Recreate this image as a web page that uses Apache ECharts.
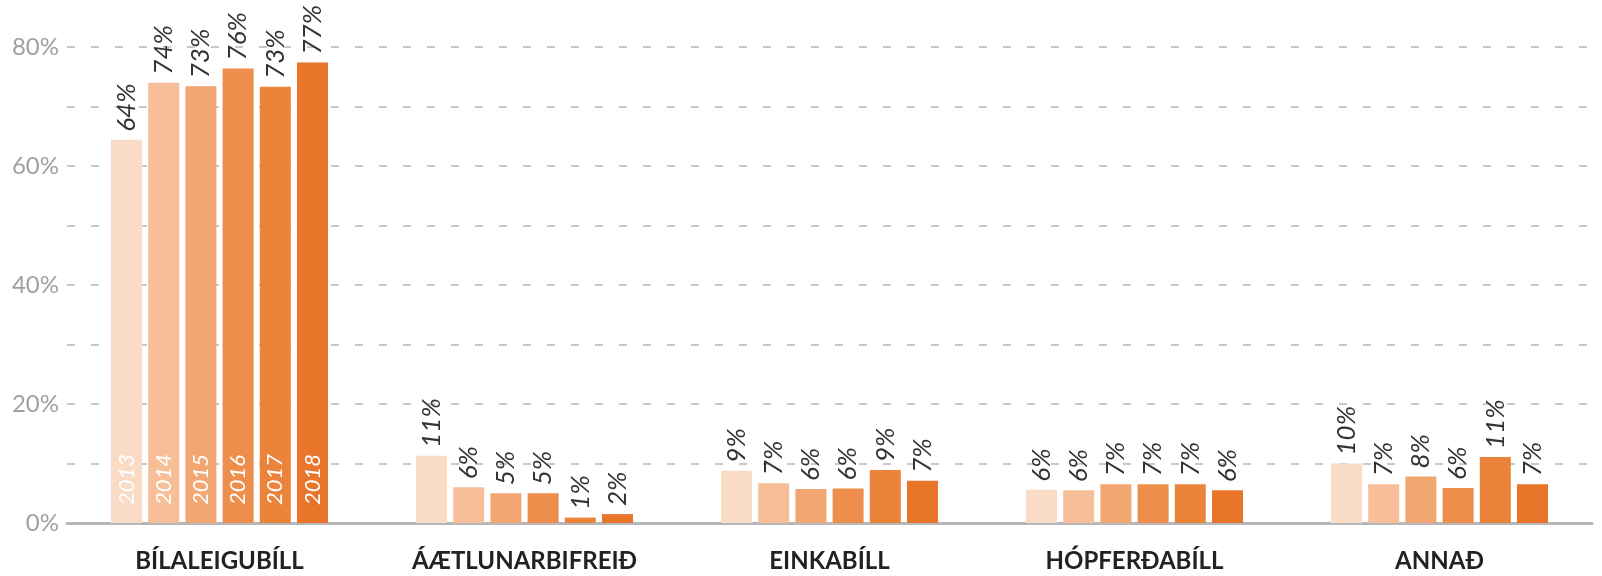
<!DOCTYPE html>
<html>
<head>
<meta charset="utf-8">
<script src="https://cdn.jsdelivr.net/npm/echarts@6/dist/echarts.min.js"></script>
<style>
  html, body { margin: 0; padding: 0; background: #fff; }
  #graph { width: 1602px; height: 576px; }
</style>
</head>
<body>
<div id="graph"></div>
<script>
// categories on the x axis
const categories = ['BÍLALEIGUBÍLL', 'ÁÆTLUNARBIFREIÐ', 'EINKABÍLL', 'HÓPFERÐABÍLL', 'ANNAÐ'];
const years = ['2013', '2014', '2015', '2016', '2017', '2018'];

// share (%) per year, one value per category
const v2013 = [64.4, 11.3, 8.8, 5.6, 10.0];
const v2014 = [74.0, 6.0, 6.7, 5.5, 6.5];
const v2015 = [73.4, 5.0, 5.7, 6.5, 7.8];
const v2016 = [76.4, 5.0, 5.8, 6.5, 5.9];
const v2017 = [73.3, 0.9, 8.9, 6.5, 11.1];
const v2018 = [77.4, 1.5, 7.1, 5.5, 6.5];

const yearValues = [v2013, v2014, v2015, v2016, v2017, v2018];
const colours = ['#f9dbc6', '#f6bf97', '#f2a671', '#ee8e4c', '#eb833b', '#e8752a'];

const font = 'Lato, "Noto Sans", sans-serif';
const barW = 31;
const gap = '20%';

let series = [];
// the visible bars with rotated value labels on top
yearValues.forEach((vals, i) => {
    series.push({
        name: years[i],
        type: 'bar',
        xAxisIndex: 0,
        barWidth: barW,
        barGap: gap,
        data: vals,
        itemStyle: { color: colours[i] },
        label: {
            show: true,
            position: 'top',
            rotate: 90,
            align: 'left',
            verticalAlign: 'middle',
            distance: 8,
            fontFamily: font,
            fontStyle: 'italic',
            fontSize: 26,
            color: '#333',
            formatter: p => Math.round(p.value) + '%'
        }
    });
});
// overlay on a hidden twin axis: year names inside the first group only
yearValues.forEach((vals, i) => {
    series.push({
        type: 'bar',
        xAxisIndex: 1,
        barWidth: barW,
        barGap: gap,
        silent: true,
        data: vals.map((v, j) => j === 0 ? v : '-'),
        itemStyle: { color: 'rgba(0,0,0,0)' },
        label: {
            show: true,
            position: 'insideBottom',
            rotate: 90,
            align: 'left',
            verticalAlign: 'middle',
            distance: 18,
            fontFamily: font,
            fontStyle: 'italic',
            fontSize: 22,
            color: '#fff',
            formatter: () => years[i]
        }
    });
});

let myChart = echarts.init(document.getElementById('graph'));
let option = {
    animation: false,
    grid: { left: 67, right: 10, top: 47, bottom: 53 },
    xAxis: [{
        type: 'category',
        data: categories,
        axisTick: { show: false },
        axisLine: { lineStyle: { color: '#b7b7bb', width: 3 } },
        axisLabel: {
            margin: 26,
            fontFamily: font,
            fontWeight: 'bold',
            fontSize: 24,
            color: '#222'
        }
    }, {
        type: 'category',
        data: categories,
        show: false
    }],
    yAxis: {
        type: 'value',
        min: 0,
        max: 80,
        interval: 10,
        axisLine: { show: false },
        axisTick: { show: false },
        axisLabel: {
            margin: 8,
            fontFamily: font,
            fontSize: 24,
            color: '#a0a0a0',
            formatter: v => (v % 20 === 0 ? v + '%' : '')
        },
        splitLine: {
            lineStyle: { color: '#c8c8c8', width: 2, type: [8, 16] }
        }
    },
    series: series
};
myChart.setOption(option);
</script>
</body>
</html>
